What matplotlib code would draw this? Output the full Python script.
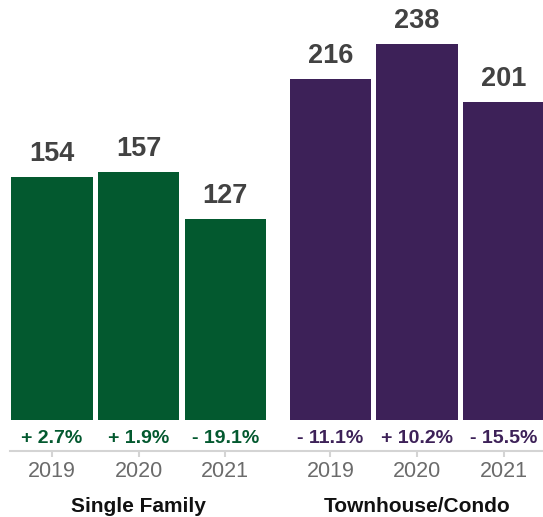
import matplotlib
matplotlib.use("Agg")
import matplotlib.pyplot as plt
import numpy as np

plt.rcParams['font.family'] = ['Liberation Sans', 'DejaVu Sans']

years = ['2019', '2020', '2021']
groups = ['Single Family', 'Townhouse/Condo']
single_family = [154, 157, 127]
townhouse = [216, 238, 201]
sf_change = ['+ 2.7%', '+ 1.9%', '- 19.1%']
th_change = ['- 11.1%', '+ 10.2%', '- 15.5%']

green = '#03592f'
purple = '#3d2158'

fig = plt.figure(figsize=(5.43, 5.17), dpi=100)
ax = fig.add_axes([10/543, 66/517, 533/543, 451/517])

x1 = np.arange(3)
x2 = np.arange(3) + 3.215
w = 0.94

ax.bar(x1, single_family, width=w, color=green)
ax.bar(x2, townhouse, width=w, color=purple)

# value labels above the bars
for xs, vals in [(x1, single_family), (x2, townhouse)]:
    for x, v in zip(xs, vals):
        ax.annotate(str(v), (x, v), xytext=(0, 11.5), textcoords='offset points',
                    ha='center', va='baseline', fontsize=19.5, fontweight='bold',
                    color='#424242')

# percent change under each bar
for xs, labs, c in [(x1, sf_change, green), (x2, th_change, purple)]:
    for x, s in zip(xs, labs):
        ax.text(x, -12, s, ha='center', va='center', fontsize=14,
                fontweight='bold', color=c)

ax.set_xlim(-0.486, 5.669)
ax.set_ylim(-19.6, 265.8)

for s in ['top', 'right', 'left']:
    ax.spines[s].set_visible(False)
ax.spines['bottom'].set_color('#d4d4d4')
ax.spines['bottom'].set_linewidth(1.5)
ax.set_yticks([])
ax.set_xticks(np.concatenate([x1, x2]))
ax.set_xticklabels(years + years)
ax.tick_params(axis='x', length=4, width=1.5, color='#d4d4d4',
               labelsize=15.5, labelcolor='#6b6b6b', pad=3)

# group names under the years
for xs, g in zip([x1, x2], groups):
    ax.annotate(g, (xs.mean(), -19.6), xytext=(0, -40), textcoords='offset points',
                ha='center', va='center', fontsize=15, fontweight='bold',
                color='#111111', annotation_clip=False)

fig.savefig('out.png', dpi=100)
